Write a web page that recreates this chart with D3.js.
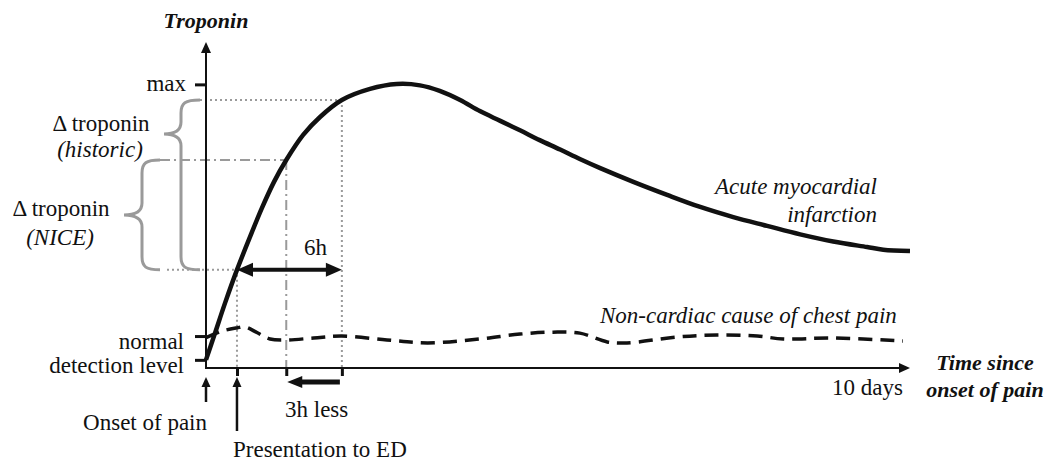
<!DOCTYPE html>
<html>
<head>
<meta charset="utf-8">
<script src="https://cdn.jsdelivr.net/npm/d3@7"></script>
<style>
  html, body { margin: 0; padding: 0; background: #fff; }
  svg { display: block; }
</style>
</head>
<body>
<div class="canva"></div>
<script>
// schematic units: time 0..100 (10 days), troponin 0..100
const amiCurve = [
  [0, 2.5], [1.28, 10.7], [2.7, 19.9], [4.4, 30.1], [6.25, 40.2], [7.95, 49.1],
  [9.66, 57.1], [11.4, 63.8], [13.8, 71.5], [16.2, 77.0], [19.3, 82.2],
  [23.3, 85.6], [27.1, 87.1], [30.4, 86.7], [33.2, 85.0], [36.1, 82.2],
  [38.9, 78.8], [41.8, 75.8], [44.6, 72.9], [47.4, 69.9], [50.3, 67.0],
  [53.1, 64.1], [56.0, 61.3], [60.7, 57.1], [65.5, 53.1], [70.2, 49.4],
  [74.9, 46.3], [79.7, 43.6], [84.4, 41.0], [89.1, 38.8], [93.9, 37.1],
  [96.2, 36.3], [100, 35.9]
];
const nonCardiac = [
  [0, 9.3], [2.2, 11.3], [4.4, 12.3], [5.5, 12.6], [7.3, 10.8], [9.1, 8.9],
  [11.4, 8.6], [15.3, 9.2], [19.3, 9.8], [25.7, 8.6], [31.5, 7.7], [38.9, 8.9],
  [44.6, 10.4], [49.3, 11.0], [53.1, 10.7], [57.0, 8.0], [59.8, 7.7],
  [66.9, 9.5], [72.6, 10.1], [78.3, 9.8], [82.0, 8.9], [89.1, 9.2], [99.0, 8.3]
];
// presentation to ED, +3h, +6h and the troponin level on the AMI curve at each
const refTimes = [4.4, 11.4, 19.3];
const refLevels = [30.1, 63.8, 82.2];
const yTickValues = [2.5, 9.8, 87];   // detection level, normal, max

const width = 1049, height = 462;
const svg = d3.select('.canva').append('svg')
  .attr('width', width)
  .attr('height', height);

const x = d3.scaleLinear().domain([0, 100]).range([206, 910]);
const y = d3.scaleLinear().domain([0, 100]).range([368, 42]);

const grey = '#9a9a9a';
const ink = '#111';

// reference lines (behind the curves)
const xp = refTimes.map(x), yp = refLevels.map(y);
const refStyles = ['2,3', '10,4,2,4', '2,3'];
const refStart = [167, 160, 200];
refTimes.forEach((t, i) => {
  svg.append('line').attr('x1', refStart[i]).attr('x2', xp[i]).attr('y1', yp[i]).attr('y2', yp[i])
    .attr('stroke', grey).attr('stroke-width', 2).attr('stroke-dasharray', refStyles[i]);
  svg.append('line').attr('x1', xp[i]).attr('x2', xp[i]).attr('y1', yp[i]).attr('y2', y(0))
    .attr('stroke', grey).attr('stroke-width', 2).attr('stroke-dasharray', refStyles[i]);
});

// curly braces
function brace(right, spine, tip, top, bottom, tipY) {
  return `M${right},${top} C${spine + 4},${top} ${spine},${top + 3} ${spine},${top + 13}` +
    ` L${spine},${tipY - 12} C${spine},${tipY - 4} ${spine - 6},${tipY} ${tip},${tipY}` +
    ` C${spine - 6},${tipY} ${spine},${tipY + 4} ${spine},${tipY + 12}` +
    ` L${spine},${bottom - 13} C${spine},${bottom - 3} ${spine + 4},${bottom} ${right},${bottom}`;
}
svg.append('path').attr('d', brace(200, 181, 164, yp[2], yp[0], 134))
  .attr('fill', 'none').attr('stroke', grey).attr('stroke-width', 3);
svg.append('path').attr('d', brace(160, 142, 124, yp[1], yp[0], 215))
  .attr('fill', 'none').attr('stroke', grey).attr('stroke-width', 3);

// axes lines with arrowheads
svg.append('line').attr('x1', x(0)).attr('x2', x(0)).attr('y1', y(0) + 1).attr('y2', y(100) + 8)
  .attr('stroke', ink).attr('stroke-width', 2);
svg.append('path').attr('d', `M${x(0)},${y(100)} L${x(0) - 5},${y(100) + 11} L${x(0) + 5},${y(100) + 11} Z`)
  .attr('fill', ink);
svg.append('line').attr('x1', x(0) - 1).attr('x2', x(100) - 8).attr('y1', y(0)).attr('y2', y(0))
  .attr('stroke', ink).attr('stroke-width', 2);
svg.append('path').attr('d', `M${x(100)},${y(0)} L${x(100) - 11},${y(0) - 5} L${x(100) - 11},${y(0) + 5} Z`)
  .attr('fill', ink);

// ticks
const yAxis = svg.append('g').attr('transform', `translate(${x(0)},0)`)
  .call(d3.axisLeft(y).tickValues(yTickValues).tickSize(11).tickFormat(''));
const xAxis = svg.append('g').attr('transform', `translate(0,${y(0)})`)
  .call(d3.axisBottom(x).tickValues(refTimes).tickSize(8).tickFormat(''));
[yAxis, xAxis].forEach(g => {
  g.select('.domain').remove();
  g.selectAll('.tick line').attr('stroke', ink).attr('stroke-width', 3);
});

// curves
const line = d3.line().x(d => x(d[0])).y(d => y(d[1])).curve(d3.curveCatmullRom.alpha(0.5));
svg.append('path').datum(nonCardiac).attr('d', line)
  .attr('fill', 'none').attr('stroke', ink).attr('stroke-width', 3.5)
  .attr('stroke-dasharray', '14,8');
svg.append('path').datum(amiCurve).attr('d', line)
  .attr('fill', 'none').attr('stroke', ink).attr('stroke-width', 4.5);

// 6h double arrow
const a6y = yp[0];
svg.append('line').attr('x1', xp[0] + 10).attr('x2', xp[2] - 10).attr('y1', a6y).attr('y2', a6y)
  .attr('stroke', ink).attr('stroke-width', 4);
svg.append('path').attr('d', `M${xp[0]},${a6y} L${xp[0] + 16},${a6y - 7} L${xp[0] + 16},${a6y + 7} Z`).attr('fill', ink);
svg.append('path').attr('d', `M${xp[2]},${a6y} L${xp[2] - 16},${a6y - 7} L${xp[2] - 16},${a6y + 7} Z`).attr('fill', ink);

// 3h less arrow
const a3y = y(0) + 14;
svg.append('line').attr('x1', xp[1] + 10).attr('x2', xp[2] - 2).attr('y1', a3y).attr('y2', a3y)
  .attr('stroke', ink).attr('stroke-width', 5);
svg.append('path').attr('d', `M${xp[1] + 1},${a3y} L${xp[1] + 16},${a3y - 6} L${xp[1] + 16},${a3y + 6} Z`).attr('fill', ink);

// onset / presentation arrows
function upArrow(px, y1, y2) {
  svg.append('line').attr('x1', px).attr('x2', px).attr('y1', y1).attr('y2', y2 + 6)
    .attr('stroke', ink).attr('stroke-width', 2.5);
  svg.append('path').attr('d', `M${px},${y2} L${px - 4.5},${y2 + 10} L${px + 4.5},${y2 + 10} Z`).attr('fill', ink);
}
upArrow(x(0), 402, 377);
upArrow(xp[0], 431, 377);

// texts
function label(t, px, py, anchor, style, weight) {
  return svg.append('text').attr('x', px).attr('y', py)
    .attr('text-anchor', anchor || 'start')
    .attr('fill', ink)
    .style('font-family', '"Liberation Serif"')
    .style('font-size', '23px')
    .style('font-style', style || 'normal')
    .style('font-weight', weight || 'normal')
    .text(t);
}
label('Troponin', x(0), 28, 'middle', 'italic', 'bold').style('font-size', '22px');
label('Time since', 985, 370, 'middle', 'italic', 'bold').style('font-size', '22px');
label('onset of pain', 985, 397, 'middle', 'italic', 'bold').style('font-size', '22px');
label('max', 186, y(87) + 7, 'end');
label('normal', 184, 349, 'end');
label('detection level', 184, 373, 'end');
label('\u0394 troponin', 101, 131, 'middle');
label('(historic)', 100, 157, 'middle', 'italic');
label('\u0394 troponin', 61, 216, 'middle');
label('(NICE)', 60, 245, 'middle', 'italic');
label('6h', (xp[0] + xp[2]) / 2 + 26, 255, 'middle');
label('3h less', 285, 417, 'start');
label('Onset of pain', 207, 430, 'end');
label('Presentation to ED', 233, 457, 'start');
label('10 days', 903, 395, 'end');
label('Acute myocardial', 877, 194, 'end', 'italic');
label('infarction', 877, 222, 'end', 'italic');
label('Non-cardiac cause of chest pain', 600, 323, 'start', 'italic');
</script>
</body>
</html>
